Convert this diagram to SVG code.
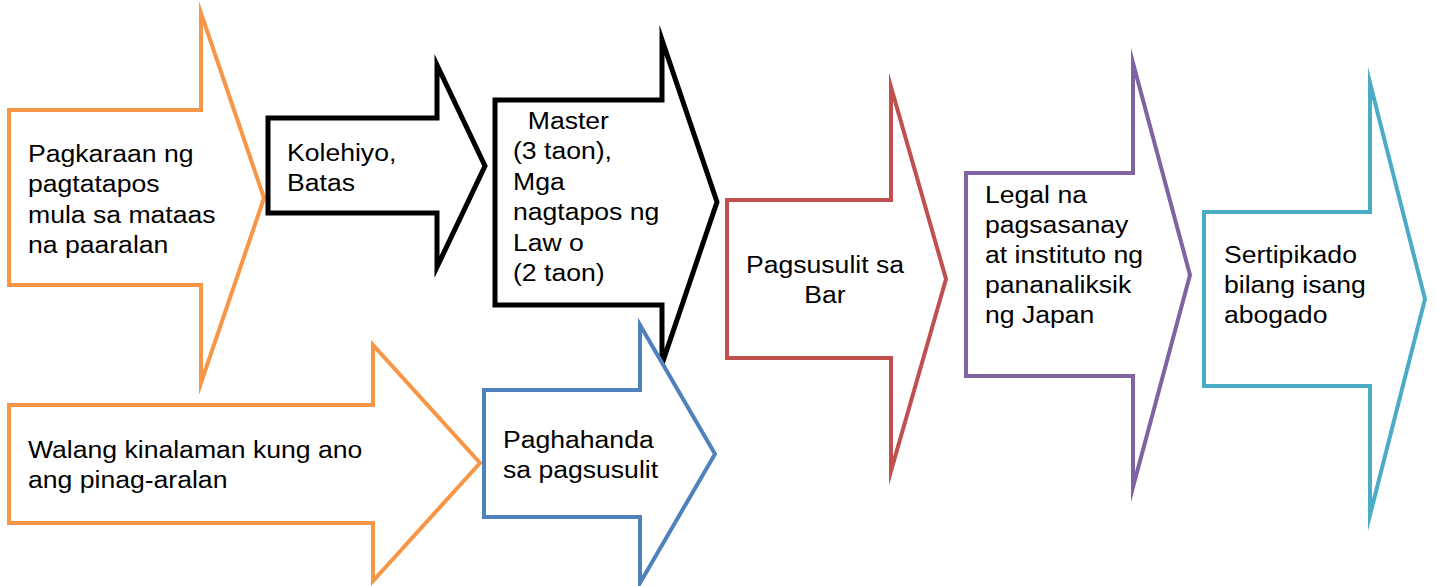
<svg xmlns="http://www.w3.org/2000/svg" width="1436" height="586" viewBox="0 0 1436 586">
<style>
.a{fill:#fff;stroke-width:4;stroke-linejoin:miter;stroke-miterlimit:10}
.or{stroke:#F79646}.bk{stroke:#000;stroke-width:5}.bl{stroke:#4F81BD}.rd{stroke:#C0504D}.pu{stroke:#8064A2}.te{stroke:#4BACC6}
text{font-family:"Liberation Sans",Arial,sans-serif;font-size:24.5px;fill:#000}
</style>
<rect width="1436" height="586" fill="#fff"/>
<g id="connectors"></g>
<g id="n1">
<polygon class="a or" points="9,110 201,110 201,13 264,198 201,383 201,285 9,285"/>
<text transform="matrix(1.085 0 0 1 28 162)"><tspan x="0" y="0">Pagkaraan ng</tspan><tspan x="0" y="30.5">pagtatapos</tspan><tspan x="0" y="61">mula sa mataas</tspan><tspan x="0" y="91.5">na paaralan</tspan></text>
</g>
<g id="n2">
<polygon class="a bk" points="268,118 437,118 437,65 485,166 437,267 437,213 268,213"/>
<text transform="matrix(1.085 0 0 1 287 161)"><tspan x="0" y="0">Kolehiyo,</tspan><tspan x="0" y="30">Batas</tspan></text>
</g>
<g id="n3">
<polygon class="a bk" points="495,100 662,100 662,40 717,202 662,364 662,305 495,305"/>
<text transform="matrix(1.085 0 0 1 513 129)" xml:space="preserve"><tspan x="0" y="0">  Master</tspan><tspan x="0" y="30.5">(3 taon),</tspan><tspan x="0" y="61">Mga</tspan><tspan x="0" y="91.5">nagtapos ng</tspan><tspan x="0" y="122">Law o</tspan><tspan x="0" y="152.5">(2 taon)</tspan></text>
</g>
<g id="n4">
<polygon class="a or" points="9,405 373,405 373,345 480,463 373,581 373,523 9,523"/>
<text transform="matrix(1.085 0 0 1 28 458)"><tspan x="0" y="0">Walang kinalaman kung ano</tspan><tspan x="0" y="30">ang pinag-aralan</tspan></text>
</g>
<g id="n5">
<polygon class="a bl" points="484,390 640,390 640,325 715,454 640,583 640,517 484,517"/>
<text transform="matrix(1.085 0 0 1 503 448)"><tspan x="0" y="0">Paghahanda</tspan><tspan x="0" y="30">sa pagsusulit</tspan></text>
</g>
<g id="n6">
<polygon class="a rd" points="727,200 891,200 891,87 946,279 891,471 891,358 727,358"/>
<text transform="matrix(1.085 0 0 1 825 273)" text-anchor="middle"><tspan x="0" y="0">Pagsusulit sa</tspan><tspan x="0" y="30">Bar</tspan></text>
</g>
<g id="n7">
<polygon class="a pu" points="966,173 1133,173 1133,63 1190,275 1133,487 1133,376 966,376"/>
<text transform="matrix(1.085 0 0 1 985 203)"><tspan x="0" y="0">Legal na</tspan><tspan x="0" y="30">pagsasanay</tspan><tspan x="0" y="60">at instituto ng</tspan><tspan x="0" y="90">pananaliksik</tspan><tspan x="0" y="120">ng Japan</tspan></text>
</g>
<g id="n8">
<polygon class="a te" points="1204,212 1370,212 1370,83 1425,299 1370,515 1370,386 1204,386"/>
<text transform="matrix(1.085 0 0 1 1224 263)"><tspan x="0" y="0">Sertipikado</tspan><tspan x="0" y="30">bilang isang</tspan><tspan x="0" y="60">abogado</tspan></text>
</g>
</svg>
